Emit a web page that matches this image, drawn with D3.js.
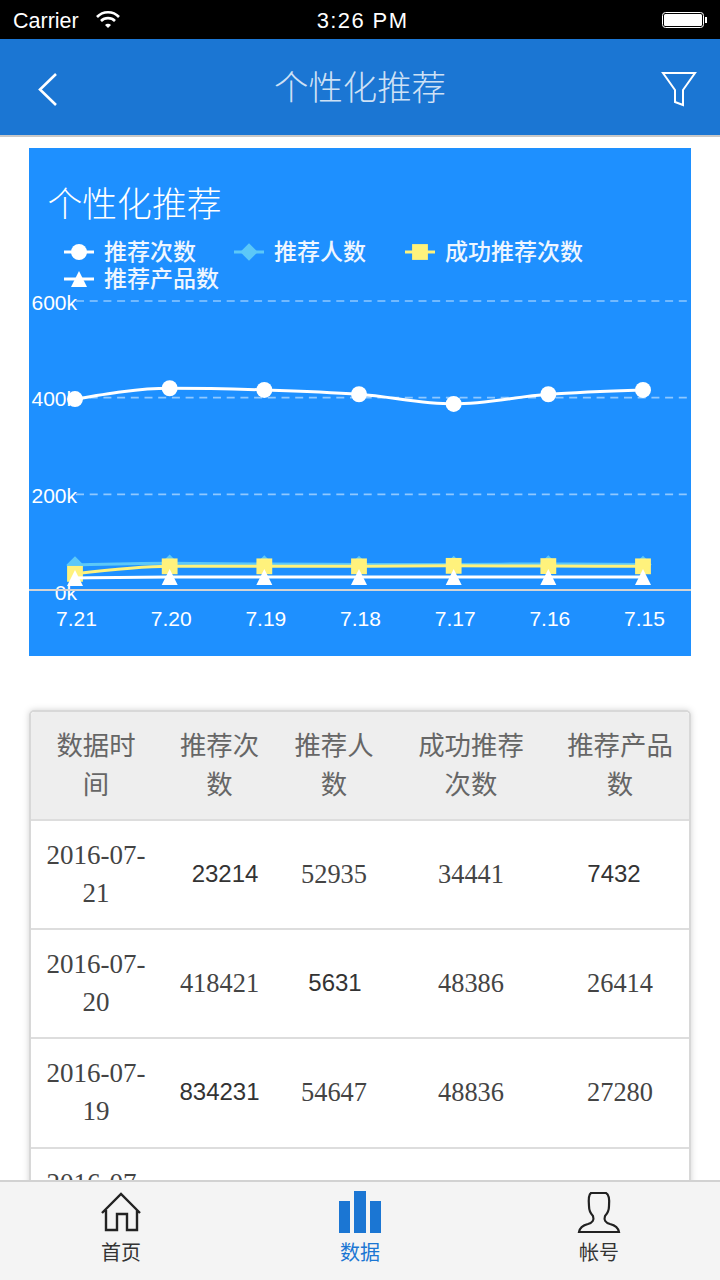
<!DOCTYPE html>
<html>
<head>
<meta charset="utf-8">
<script src="https://cdn.jsdelivr.net/npm/d3@7/dist/d3.min.js"></script>
<style>
  html, body { margin: 0; padding: 0; background: #fff; }
  svg { display: block; }
  text { font-family: "Liberation Sans", sans-serif; }
  .cjk { font-family: "Noto Sans CJK SC", sans-serif; }
  .serif { font-family: "Liberation Serif", serif; }
</style>
</head>
<body>
<div id="chart"></div>
<script>
// chart data
const categories = ['7.21', '7.20', '7.19', '7.18', '7.17', '7.16', '7.15'];
const recommendCount = [396000, 418421, 415000, 406000, 386000, 406000, 415000];
const recommendUsers = [52935, 56310, 54647, 54000, 54000, 55000, 54000];
const successCount = [34441, 50000, 50000, 50000, 51000, 50500, 50000];
const productCount = [26000, 28000, 28000, 28000, 28000, 28000, 28000];
const yTicks = [0, 200000, 400000, 600000];

const seriesNames = ['推荐次数', '推荐人数', '成功推荐次数', '推荐产品数'];
const seriesValues = [recommendCount, recommendUsers, successCount, productCount];
const seriesColors = ['#ffffff', '#5cc8f8', '#fff27c', '#ffffff'];

// table data, s = sans cell, the rest are serif as in the app
const tableHeaders = [['数据时', '间'], ['推荐次', '数'], ['推荐人', '数'], ['成功推荐', '次数'], ['推荐产品', '数']];
const tableDates = [['2016-07-', '21'], ['2016-07-', '20'], ['2016-07-', '19'], ['2016-07-', '18']];
const tableValues = [
  ['23214', '52935', '34441', '7432'],
  ['418421', '5631', '48386', '26414'],
  ['834231', '54647', '48836', '27280'],
];
const sansCells = ['0-0', '0-3', '1-1', '2-0'];
const columnCenters = [96, 219.5, 334, 471, 620];
const rowTops = [820, 929, 1038, 1148];

const svg = d3.select('#chart').append('svg').attr('width', 720).attr('height', 1280);

function label(parent, x, y, str, size, color, cls) {
  return parent.append('text')
    .attr('class', cls || 'cjk')
    .attr('x', x)
    .attr('y', y)
    .attr('text-anchor', 'middle')
    .attr('font-size', size)
    .attr('fill', color)
    .text(str);
}

// custom markers, the d3 ones have other proportions
const triangleMark = {draw(ctx, size) {
  const r = Math.sqrt(size);
  ctx.moveTo(0, -r);
  ctx.lineTo(r, r);
  ctx.lineTo(-r, r);
  ctx.closePath();
}};
const diamondMark = {draw(ctx, size) {
  const r = Math.sqrt(size);
  ctx.moveTo(0, -r);
  ctx.lineTo(r, 0);
  ctx.lineTo(0, r);
  ctx.lineTo(-r, 0);
  ctx.closePath();
}};
const seriesSymbols = [
  d3.symbol().type(d3.symbolCircle).size(200),
  d3.symbol().type(diamondMark).size(76),
  d3.symbol().type(d3.symbolSquare).size(250),
  d3.symbol().type(triangleMark).size(64),
];

// status bar
svg.append('rect').attr('width', 720).attr('height', 39).attr('fill', '#000');
svg.append('text').attr('x', 13).attr('y', 28).attr('font-size', 21.5).attr('fill', '#fff').text('Carrier');
label(svg, 362.5, 28, '3:26 PM', 22, '#fff').attr('class', null).attr('letter-spacing', 1.4);
const wifi = svg.append('g').attr('transform', 'translate(108,28)').attr('fill', 'none').attr('stroke', '#fff').attr('stroke-width', 2.6);
wifi.append('path').attr('d', 'M-11,-11 A15,15 0 0 1 11,-11');
wifi.append('path').attr('d', 'M-7,-7 A10,10 0 0 1 7,-7');
wifi.append('path').attr('d', 'M-3,-3 L0,0 L3,-3 A4,4 0 0 0 -3,-3Z').attr('fill', '#fff').attr('stroke', 'none');
svg.append('rect').attr('x', 662.5).attr('y', 12.5).attr('width', 41).attr('height', 15).attr('rx', 3)
  .attr('fill', 'none').attr('stroke', '#fff').attr('stroke-width', 1);
svg.append('rect').attr('x', 664).attr('y', 14).attr('width', 38).attr('height', 12).attr('rx', 1.5).attr('fill', '#fff');
svg.append('rect').attr('x', 705).attr('y', 17).attr('width', 2).attr('height', 6).attr('fill', '#fff');

// nav bar
svg.append('rect').attr('y', 39).attr('width', 720).attr('height', 96).attr('fill', '#1b76d3');
svg.append('rect').attr('y', 135).attr('width', 720).attr('height', 2).attr('fill', '#c8c8c8');
label(svg, 360, 100, '个性化推荐', 34.4, 'rgba(255,255,255,0.8)').attr('font-weight', 200);
svg.append('path').attr('d', 'M56,74 L40,89.5 L56,105').attr('fill', 'none').attr('stroke', '#fff').attr('stroke-width', 2.6);
svg.append('path').attr('d', 'M663,73 H695 L683,90 V105 L675,102 V90 Z').attr('fill', 'none').attr('stroke', '#fff').attr('stroke-width', 2);

// chart panel
svg.append('rect').attr('x', 29).attr('y', 148).attr('width', 662).attr('height', 508).attr('fill', '#1e90ff');
label(svg, 134.5, 216.5, '个性化推荐', 34.8, '#fff').attr('font-weight', 300);

const x = d3.scalePoint().domain(categories).range([75, 643]);
const y = d3.scaleLinear().domain([0, 600000]).range([590.5, 300.5]);
const tickFormat = d => d / 1000 + 'k';

const yAxis = svg.append('g')
  .attr('transform', 'translate(77,0)')
  .call(d3.axisLeft(y).tickValues(yTicks).tickFormat(tickFormat).tickSize(0).tickPadding(0));
yAxis.select('.domain').remove();
yAxis.selectAll('text').attr('font-family', null).attr('font-size', 21).attr('fill', '#fff').attr('dy', '0.55em').attr('y', -3);

const grid = svg.append('g')
  .attr('transform', 'translate(76,0)')
  .call(d3.axisRight(y).tickValues(yTicks.slice(1)).tickFormat('').tickSize(615));
grid.select('.domain').remove();
grid.selectAll('line').attr('stroke', 'rgba(255,255,255,0.5)').attr('stroke-width', 1.6).attr('stroke-dasharray', '8,5.7');

const xAxis = svg.append('g')
  .attr('transform', 'translate(1,590)')
  .call(d3.axisBottom(x).tickSize(0).tickPadding(21));
xAxis.select('.domain').remove();
xAxis.selectAll('text').attr('font-family', null).attr('font-size', 21).attr('fill', '#fff');
svg.append('rect').attr('x', 29).attr('y', 589).attr('width', 662).attr('height', 2).attr('fill', '#d4d4d4');

const line = d3.line().x((d, i) => x(categories[i])).y(d => y(d)).curve(d3.curveMonotoneX);

seriesValues.forEach((values, s) => {
  svg.append('path')
    .attr('d', line(values))
    .attr('fill', 'none')
    .attr('stroke', seriesColors[s])
    .attr('stroke-width', 3);
  svg.append('g').selectAll('path')
    .data(values)
    .join('path')
    .attr('d', seriesSymbols[s])
    .attr('transform', (d, i) => `translate(${x(categories[i])},${y(d)})`)
    .attr('fill', seriesColors[s]);
});

// legend, wraps after the third entry
const legendSpots = [[64, 252], [234, 252], [405, 252], [64, 279]];
const legend = svg.append('g').selectAll('g')
  .data(seriesNames)
  .join('g')
  .attr('transform', (d, i) => `translate(${legendSpots[i][0]},${legendSpots[i][1]})`);
legend.append('line').attr('x2', 30).attr('stroke', (d, i) => seriesColors[i]).attr('stroke-width', 3);
legend.append('path').attr('transform', 'translate(15,0)').attr('d', (d, i) => seriesSymbols[i]()).attr('fill', (d, i) => seriesColors[i]);
legend.append('text')
  .attr('class', 'cjk')
  .attr('x', 40)
  .attr('y', 7.5)
  .attr('font-size', 23)
  .attr('font-weight', 500)
  .attr('fill', '#eef6ff')
  .text(d => d);

// table card
svg.append('defs').append('filter').attr('id', 'cardShadow')
  .attr('x', '-5%').attr('y', '-5%').attr('width', '110%').attr('height', '110%')
  .append('feDropShadow').attr('dx', 0).attr('dy', 0).attr('stdDeviation', 3).attr('flood-color', '#000').attr('flood-opacity', 0.18);
svg.append('rect').attr('x', 30).attr('y', 711).attr('width', 660).attr('height', 560).attr('rx', 4)
  .attr('fill', '#fff').attr('stroke', '#d8d8d8').attr('stroke-width', 2).attr('filter', 'url(#cardShadow)');
svg.append('path').attr('d', 'M31,820 V716 Q31,712 35,712 H685 Q689,712 689,716 V820 Z').attr('fill', '#eeeeee');

const table = svg.append('g');
tableHeaders.forEach((lines, c) => {
  lines.forEach((str, l) => label(table, columnCenters[c], 755 + l * 39, str, 26.4, '#666'));
});
rowTops.forEach((top, r) => {
  table.append('rect').attr('x', 31).attr('y', top - 1).attr('width', 658).attr('height', 2).attr('fill', '#dddddd');
  tableDates[r].forEach((str, l) => label(table, 96, top + 44 + l * 38, str, 27, '#444', 'serif'));
  if (!tableValues[r]) return;
  tableValues[r].forEach((str, c) => {
    const isSans = sansCells.includes(`${r}-${c}`);
    const cx = columnCenters[c + 1] + (isSans && r < 2 ? (c === 0 ? 5.5 : c === 3 ? -6 : 1) : 0);
    label(table, cx, top + (isSans ? 62 : 63), str, isSans ? 24 : 26.4, isSans ? '#333' : '#444', isSans ? 'sans' : 'serif');
  });
});

// tab bar
svg.append('rect').attr('y', 1180).attr('width', 720).attr('height', 100).attr('fill', '#f4f4f4');
svg.append('rect').attr('y', 1180).attr('width', 720).attr('height', 2).attr('fill', '#d2d2d2');
label(svg, 121, 1260, '首页', 20, '#333');
label(svg, 360, 1260, '数据', 20, '#1b76d3');
label(svg, 599, 1260, '帐号', 20, '#333');
svg.append('path')
  .attr('d', 'M102,1213 L121,1194 L140,1213 M106,1210 V1230 H117 V1214 H127 V1230 H137 V1210')
  .attr('fill', 'none').attr('stroke', '#222').attr('stroke-width', 2.4);
[[339, 1201, 11], [354, 1191, 12], [370, 1201, 11]].forEach(b => {
  svg.append('rect').attr('x', b[0]).attr('y', b[1]).attr('width', b[2]).attr('height', 1233 - b[1]).attr('fill', '#1b76d3');
});
svg.append('path')
  .attr('d', 'M591,1193 H606 Q610,1195 609,1206 Q609,1212 605,1216 Q603,1222 610,1224 Q618,1226 619,1232 H579 Q580,1226 588,1224 Q595,1222 593,1216 Q589,1212 589,1206 Q588,1195 591,1193 Z')
  .attr('fill', 'none').attr('stroke', '#222').attr('stroke-width', 2.2);
</script>
</body>
</html>
